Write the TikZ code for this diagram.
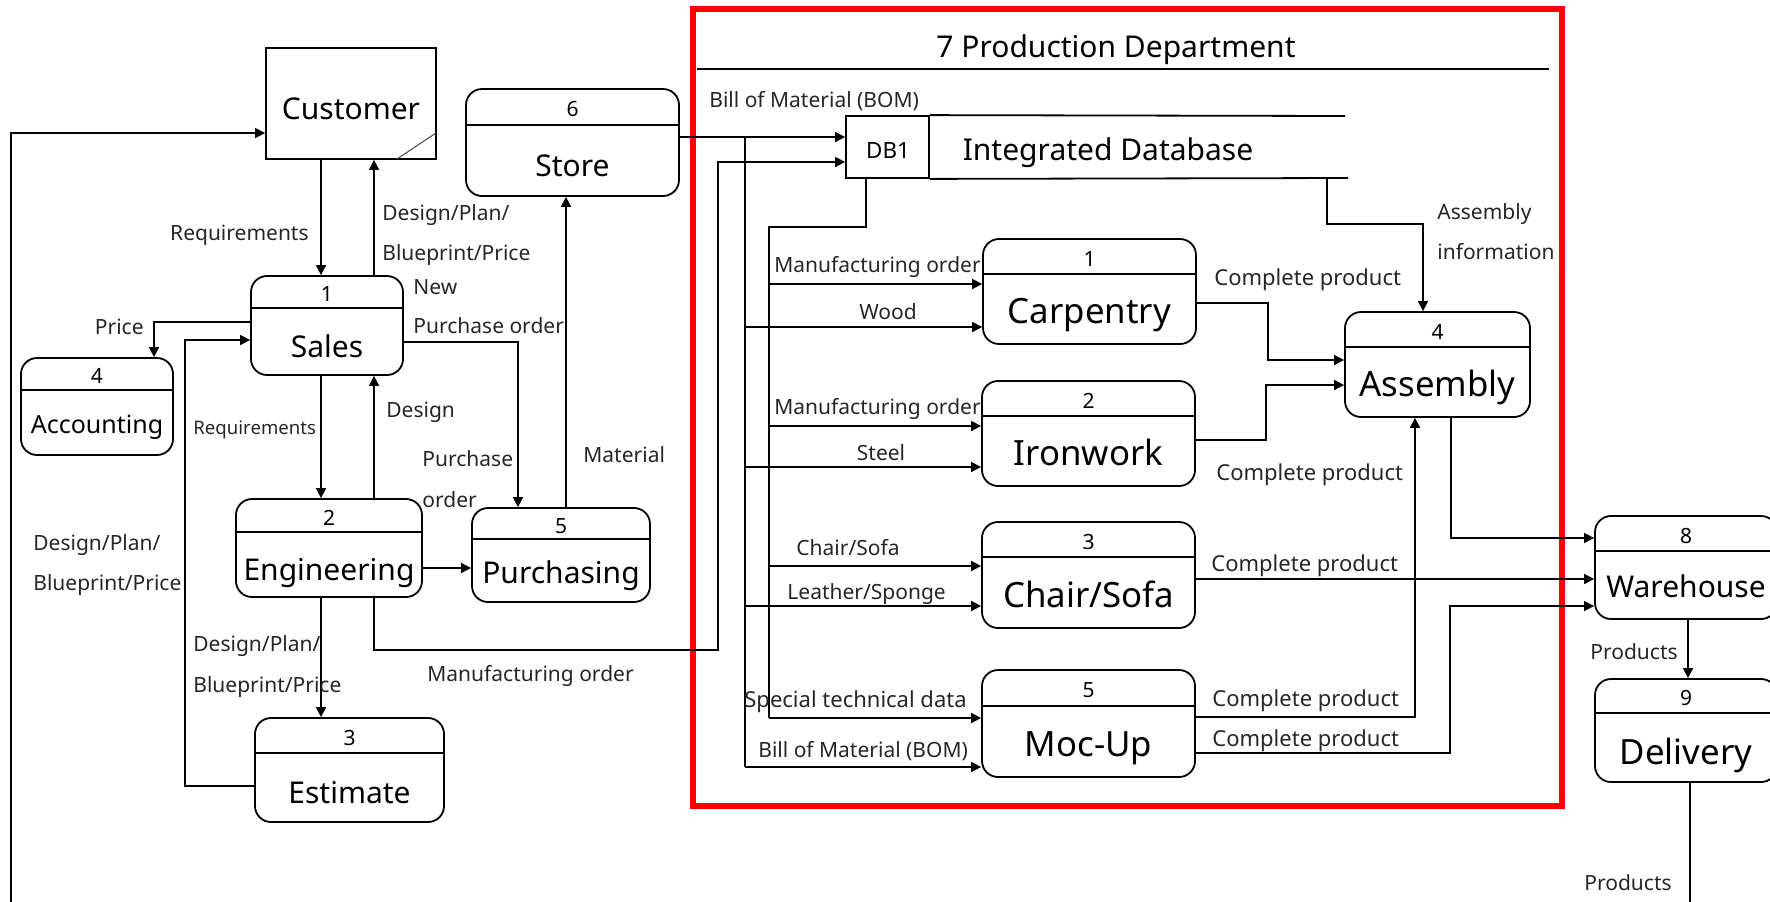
\documentclass[tikz,border=0pt]{standalone}
\usepackage{fontspec}
\setmainfont{Noto Sans}
\usetikzlibrary{arrows.meta,fit}
\tikzset{
  box/.style={draw, line width=0.9pt, rounded corners=8pt, inner sep=0pt},
  ent/.style={draw, line width=0.9pt, inner sep=0pt},
  divider/.style={line width=0.9pt},
  conn/.style={line width=0.8pt},
  arr/.style={conn, -{Triangle[length=5pt,width=5pt]}},
  num/.style={font=\fontsize{10.5}{12}\selectfont, inner sep=0pt, text height=7.6pt, text depth=0pt},
  ttl/.style={font=\fontsize{15}{18}\selectfont, inner sep=0pt, text height=10.8pt, text depth=0pt},
  ttllow/.style={ttl, yshift=-1.5pt},
  accttl/.style={font=\fontsize{12.5}{15}\selectfont, inner sep=0pt, text height=9pt, text depth=0pt},
  bigttl/.style={font=\fontsize{17.4}{20}\selectfont, inner sep=0pt, text height=12.5pt, text depth=0pt},
  bigttllow/.style={bigttl, yshift=-1pt},
  dbid/.style={font=\fontsize{11.2}{13}\selectfont, inner sep=0pt, text height=8pt, text depth=0pt},
  lbl/.style={font=\fontsize{10.5}{12}\selectfont, text=black!85, inner sep=0pt, text height=7.6pt, text depth=0pt},
  widelbl/.style={lbl, font=\fontsize{11}{13}\selectfont},
  smalllbl/.style={font=\fontsize{9.3}{11}\selectfont, text=black!85, inner sep=0pt, text height=6.7pt, text depth=0pt},
}
\newcommand\proc[9]{%
  \node[box, fit={(#2,#3) (#4,#5)}] (#1) {};
  \draw[divider] (#2,#6) -- (#4,#6);
  \node[num] (#1-n) at ({(#2+#4)/2},{(#3+#6)/2+2}) {#7};
  \node[#9] (#1-t) at ({(#2+#4)/2},{(#6+#5)/2+2}) {#8};
}
\begin{document}
\begin{tikzpicture}[x=0.5pt,y=-0.5pt]
\useasboundingbox (0,0) rectangle (1770,901);
\clip (0,0) rectangle (1770,901);

% production department frame
\node[draw=red, line width=3pt, inner sep=0pt, fit={(693,9) (1562,806)}] (prod) {};
\node[ttl] (prod-t) at (1116,47) {7 Production Department};
\draw[line width=1.4pt] (697,69) -- (1549,69);

% external entity
\node[ent, fit={(266,48) (436,159)}] (customer) {};
\node[ttllow] (customer-t) at (351,106) {Customer};
\draw[line width=0.5pt, black!70] (397,159) -- (436,133);

% processes
\proc{sales}{251}{276}{403}{375}{308}{1}{Sales}{ttllow}
\proc{accounting}{21}{358}{173}{455}{390}{4}{Accounting}{accttl}
\proc{engineering}{236}{499}{422}{597}{532}{2}{Engineering}{ttllow}
\proc{purchasing}{472}{508}{650}{602}{539}{5}{Purchasing}{ttl}
\proc{estimate}{255}{718}{444}{822}{753}{3}{Estimate}{ttllow}
\proc{store}{466}{89}{679}{196}{125}{6}{Store}{ttllow}
\proc{carpentry}{983}{239}{1196}{344}{274}{1}{Carpentry}{bigttl}
\proc{ironwork}{982}{381}{1195}{486}{416}{2}{Ironwork}{bigttl}
\proc{chairsofa}{982}{522}{1195}{628}{557}{3}{Chair/Sofa}{bigttl}
\proc{mocup}{982}{670}{1195}{777}{706}{5}{Moc-Up}{bigttl}
\proc{assembly}{1345}{312}{1530}{417}{347}{4}{Assembly}{bigttl}
\proc{warehouse}{1595}{516}{1777}{619}{551}{8}{Warehouse}{ttl}
\proc{delivery}{1595}{679}{1777}{782}{713}{9}{Delivery}{bigttllow}

% data store
\node[ent, fit={(846,116) (929,178)}] (db) {};
\draw[divider] (db.north east) -- (1345,116);
\draw[divider] (db.south east) -- (1348,178);
\node[dbid] (db-id) at (888,150) {DB1};
\node[ttl] (db-t) at (1108,150) {Integrated Database};

% bus coordinates
\coordinate (storebus) at (745,137);
\coordinate (dbbus) at (769,227);
\coordinate (mobus) at (718,650);
\coordinate (dbout) at (1327,178);

% connectors left part
\draw[arr] (customer.south -| 321,0) -- (sales.north -| 321,0);
\draw[arr] (sales.north -| 374,0) -- (customer.south -| 374,0);
\draw[arr] (sales.west |- 0,322) -| (accounting.north -| 154,0);
\draw[arr] (estimate.west |- 0,786) -| (185,340) -- (sales.west |- 0,340);
\draw[arr] (sales.east |- 0,342) -| (purchasing.north -| 518,0);
\draw[arr] (sales.south -| 321,0) -- (engineering.north -| 321,0);
\draw[arr] (engineering.north -| 374,0) -- (sales.south -| 374,0);
\draw[arr] (engineering.east |- 0,568) -- (purchasing.west |- 0,568);
\draw[arr] (purchasing.north -| 566,0) -- (store.south -| 566,0);
\draw[arr] (engineering.south -| 321,0) -- (estimate.north -| 321,0);
\draw[arr] (engineering.south -| 374,0) |- (mobus) -- (718,162) -- (db.west |- 0,162);
\draw[arr] (store.east |- 0,137) -- (db.west |- 0,137);
\draw[arr] (delivery.south -| 1690,0) -- (1690,930) -| (11,133) -- (customer.west |- 0,133);

% production inputs
\draw[conn] (storebus) -- (745,767);
\draw[arr] (745,327) -- (carpentry.west |- 0,327);
\draw[arr] (745,467) -- (ironwork.west |- 0,467);
\draw[arr] (745,606) -- (chairsofa.west |- 0,606);
\draw[arr] (745,767) -- (mocup.west |- 0,767);
\draw[conn] (db.south -| 866,0) |- (dbbus) -- (769,718);
\draw[arr] (769,284) -- (carpentry.west |- 0,284);
\draw[arr] (769,426) -- (ironwork.west |- 0,426);
\draw[arr] (769,566) -- (chairsofa.west |- 0,566);
\draw[arr] (769,718) -- (mocup.west |- 0,718);
\draw[arr] (dbout) |- (1423,224) -- (assembly.north -| 1423,0);

% production outputs
\draw[arr] (carpentry.east |- 0,303) -| (1268,360) -- (assembly.west |- 0,360);
\draw[arr] (ironwork.east |- 0,440) -| (1266,385) -- (assembly.west |- 0,385);
\draw[arr] (chairsofa.east |- 0,579) -- (warehouse.west |- 0,579);
\draw[arr] (mocup.east |- 0,717) -| (assembly.south -| 1415,0);
\draw[arr] (mocup.east |- 0,753) -| (1450,606) -- (warehouse.west |- 0,606);
\draw[arr] (assembly.south -| 1451,0) |- (warehouse.west |- 0,538);
\draw[arr] (warehouse.south -| 1688,0) -- (delivery.north -| 1688,0);

% labels
\node[lbl, anchor=east] (l1) at (309,233) {Requirements};
\node[lbl, anchor=west] (l2) at (382,213) {Design/Plan/};
\node[lbl, anchor=west] (l3) at (382,253) {Blueprint/Price};
\node[lbl, anchor=west] (l4) at (413,287) {New};
\node[lbl, anchor=west] (l5) at (413,326) {Purchase order};
\node[lbl, anchor=east] (l6) at (144,327) {Price};
\node[smalllbl, anchor=west] (l7) at (193,428) {Requirements};
\node[lbl, anchor=west] (l8) at (386,410) {Design};
\node[lbl, anchor=west] (l9) at (422,459) {Purchase};
\node[lbl, anchor=west] (l10) at (422,500) {order};
\node[lbl, anchor=west] (l11) at (583,455) {Material};
\node[lbl, anchor=west] (l12) at (33,543) {Design/Plan/};
\node[lbl, anchor=west] (l13) at (33,583) {Blueprint/Price};
\node[lbl, anchor=west] (l14) at (193,644) {Design/Plan/};
\node[lbl, anchor=west] (l15) at (193,685) {Blueprint/Price};
\node[lbl, anchor=west] (l16) at (427,674) {Manufacturing order};
\node[lbl, anchor=west] (l17) at (709,100) {Bill of Material (BOM)};
\node[lbl, anchor=west] (l18) at (774,265) {Manufacturing order};
\node[lbl] (l19) at (888,312) {Wood};
\node[lbl, anchor=west] (l20) at (774,407) {Manufacturing order};
\node[lbl] (l21) at (881,453) {Steel};
\node[lbl, anchor=west] (l22) at (796,548) {Chair/Sofa};
\node[lbl, anchor=west] (l23) at (787,592) {Leather/Sponge};
\node[widelbl, anchor=west] (l24) at (744,700) {Special technical data};
\node[lbl, anchor=west] (l25) at (758,750) {Bill of Material (BOM)};
\node[widelbl, anchor=west] (l26) at (1214,278) {Complete product};
\node[widelbl, anchor=west] (l27) at (1216,473) {Complete product};
\node[widelbl, anchor=west] (l28) at (1211,564) {Complete product};
\node[widelbl, anchor=west] (l29) at (1212,699) {Complete product};
\node[widelbl, anchor=west] (l30) at (1212,739) {Complete product};
\node[lbl, anchor=west] (l31) at (1437,212) {Assembly};
\node[lbl, anchor=west] (l32) at (1437,252) {information};
\node[lbl, anchor=east] (l33) at (1678,652) {Products};
\node[lbl, anchor=east] (l34) at (1672,883) {Products};
\end{tikzpicture}
\end{document}
